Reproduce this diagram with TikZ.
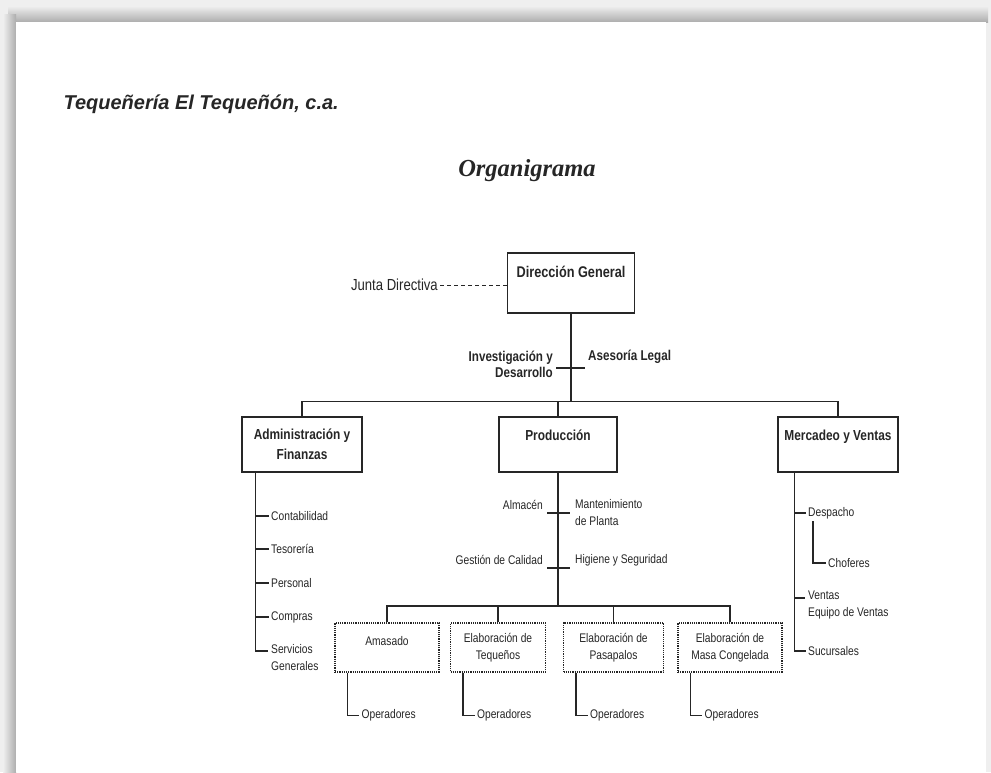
\documentclass[tikz,border=0pt]{standalone}
\usepackage{fontspec}
\setmainfont{Liberation Sans}
\newfontfamily\labfont{Liberation Sans}[FakeStretch=0.82]
\newfontfamily\serifbi{Liberation Serif}
\usetikzlibrary{calc}
\definecolor{ink}{HTML}{262626}
\definecolor{frameA}{HTML}{EFEFEF}
\definecolor{frameB}{HTML}{ADADAD}
\tikzset{
  wire/.style={draw=ink, line width=1.2pt},
  topbox/.style={draw=ink, line width=1.3pt, fill=white, align=center,
    font=\labfont\bfseries\fontsize{14.5}{20}\selectfont, text=ink,
    minimum height=55pt, inner sep=2pt},
  subbox/.style={draw=ink, line width=1.2pt, densely dotted, fill=white, align=center,
    font=\labfont\fontsize{12.5}{17}\selectfont, text=ink,
    minimum height=49pt, inner sep=2pt},
  lab/.style={font=\labfont\fontsize{12.5}{17}\selectfont, text=ink, inner sep=2pt, align=left},
  blab/.style={font=\labfont\bfseries\fontsize{14.2}{16}\selectfont, text=ink, inner sep=2pt},
}
\begin{document}
\begin{tikzpicture}[x=1pt, y=-1pt]
% sheet and its shaded frame
\useasboundingbox (0,0) rectangle (991,772);
\fill[frameA] (0,0) rectangle (991,772);
\shade[top color=frameA, bottom color=frameB] (8,6) rectangle (988,22);
\shade[left color=frameA, right color=frameB] (3,14) rectangle (16,772);
\fill[white] (16,22) rectangle (986,772);

% headings
\node[font=\bfseries\itshape\fontsize{20}{24}\selectfont, text=black!85, anchor=west] (firm) at (60,104) {Tequeñería El Tequeñón, c.a.};
\node[font=\serifbi\bfseries\itshape\fontsize{24.5}{28}\selectfont, text=black!85] (title) at (527,171) {Organigrama};

% top management
\node[topbox, font=\labfont\bfseries\fontsize{15.5}{20}\selectfont, minimum width=127pt, minimum height=60pt] (dg) at (571,283) {Dirección General\\[-4pt] \strut};
\node[lab, font=\labfont\fontsize{16}{18}\selectfont, anchor=east] (junta) at (440,285) {Junta Directiva};
\draw[wire, line width=1pt, dash pattern=on 4pt off 3pt] (junta.east) -- (junta.east -| dg.west);

% staff units on the main line
\coordinate (bus) at (571,402);
\coordinate (staff) at (571,368);
\draw[wire] (dg.south) -- (bus);
\draw[wire] ([xshift=-15pt]staff) -- ([xshift=14pt]staff);
\node[blab, anchor=east, align=right] (invdes) at (555,364) {Investigación y\\Desarrollo};
\node[blab, anchor=west] (legal) at (586,357) {Asesoría Legal};

% departments
\node[topbox, minimum width=120pt] (adm) at (302,444.5) {Administración y\\Finanzas};
\node[topbox, minimum width=118pt] (prod) at (558,444.5) {Producción\\[-8pt] \strut};
\node[topbox, minimum width=120pt] (mer) at (838,444.5) {Mercadeo y Ventas\\[-8pt] \strut};
\draw[wire] (adm.north) -- ++(0,-15) -| (mer.north);
\draw[wire] (prod.north) -- (prod.north |- bus);

% Administración y Finanzas
\coordinate (admtop) at ($(adm.south west)+(14,0)$);
\node[lab, anchor=west] (cont) at (269,516) {Contabilidad};
\node[lab, anchor=west] (teso) at (269,549) {Tesorería};
\node[lab, anchor=west] (pers) at (269,583) {Personal};
\node[lab, anchor=west] (comp) at (269,617) {Compras};
\node[lab, anchor=north west] (serv) at (269,642) {Servicios\\Generales};
\coordinate (servtick) at (268,651);
\draw[wire] (admtop) |- (servtick);
\draw[wire] (admtop |- cont.west) -- (cont.west);
\draw[wire] (admtop |- teso.west) -- (teso.west);
\draw[wire] (admtop |- pers.west) -- (pers.west);
\draw[wire] (admtop |- comp.west) -- (comp.west);

% Producción
\coordinate (pbus) at (558,606);
\coordinate (ptick1) at (558,513);
\coordinate (ptick2) at (558,568);
\draw[wire] (prod.south) -- (pbus);
\draw[wire] ([xshift=-11pt]ptick1) -- ([xshift=12pt]ptick1);
\draw[wire] ([xshift=-11pt]ptick2) -- ([xshift=12pt]ptick2);
\node[lab, anchor=east] (alm) at (545,505) {Almacén};
\node[lab, anchor=west] (mant) at (573,513) {Mantenimiento\\de Planta};
\node[lab, anchor=east] (gest) at (545,560) {Gestión de Calidad};
\node[lab, anchor=west] (hig) at (573,560) {Higiene y Seguridad};

% production areas
\node[subbox, minimum width=104pt] (ama) at (387,647.5) {Amasado\\[-10pt] \strut};
\node[subbox, minimum width=95pt] (teq) at (498,647.5) {Elaboración de\\Tequeños};
\node[subbox, minimum width=100pt] (pas) at (613.5,647.5) {Elaboración de\\Pasapalos};
\node[subbox, minimum width=104pt] (mas) at (730,647.5) {Elaboración de\\Masa Congelada};
\draw[wire] (ama.north) -- (ama.north |- pbus) -| (mas.north);
\draw[wire] (teq.north) -- (teq.north |- pbus);
\draw[wire] (pas.north) -- (pas.north |- pbus);

% operators under each area
\foreach \b in {ama,teq,pas,mas}{
  \node[lab, anchor=west] (op\b) at ($(\b.south west)+(25,43)$) {Operadores};
  \draw[wire] ($(\b.south west)+(13,0)$) |- (op\b.west);
}

% Mercadeo y Ventas
\coordinate (mertop) at ($(mer.south west)+(17,0)$);
\node[lab, anchor=west] (desp) at (806,513) {Despacho};
\node[lab, anchor=west] (chof) at (826,563) {Choferes};
\node[lab, anchor=north west] (vent) at (806,589) {Ventas\\Equipo de Ventas};
\node[lab, anchor=west] (suc) at (806,651) {Sucursales};
\coordinate (venttick) at (805,598);
\draw[wire] (mertop) |- (suc.west);
\draw[wire] (mertop |- desp.west) -- (desp.west);
\draw[wire] (mertop |- venttick) -- (venttick);
\draw[wire] ($(desp.south west)+(7,0)$) |- (chof.west);
\end{tikzpicture}
\end{document}
